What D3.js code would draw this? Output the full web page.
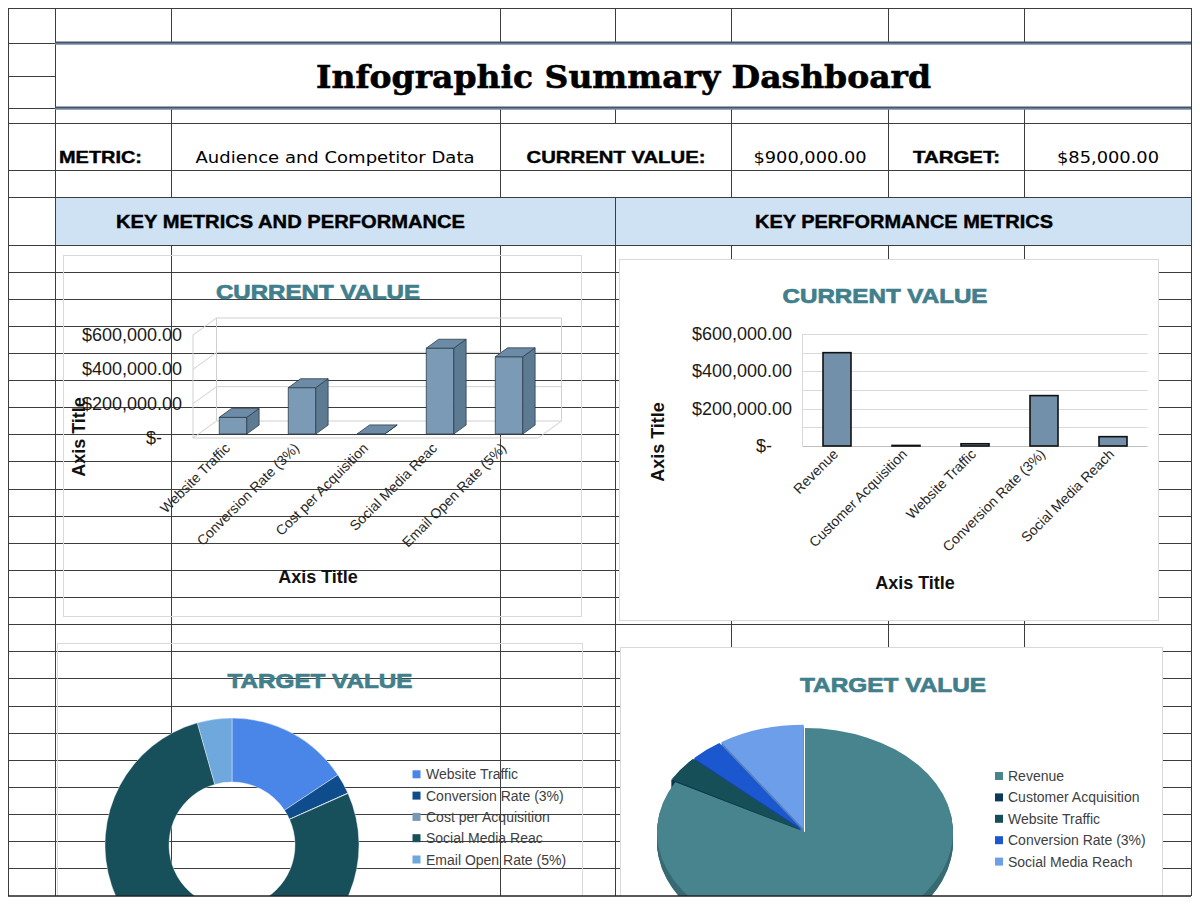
<!DOCTYPE html>
<html>
<head>
<meta charset="utf-8">
<script src="https://cdn.jsdelivr.net/npm/d3@7"></script>
<style>
  body { margin: 0; background: #fff; }
  svg { display: block; }
  text { font-family: "Liberation Sans", Arial, sans-serif; }
</style>
</head>
<body>
<svg id="dash" width="1200" height="904"></svg>
<script>
// ---- data ----
const pageTitle = "Infographic Summary Dashboard";
const metricName = "Audience and Competitor Data";
const currentValue = 900000;
const targetValue = 85000;

const leftCats = ["Website Traffic", "Conversion Rate (3%)", "Cost per Acquisition", "Social Media Reac", "Email Open Rate (5%)"];
const leftCurrent = [97000, 270000, 1000, 500000, 450000];
const leftTarget = [157000, 26000, 500, 773000, 44000];

const rightCats = ["Revenue", "Customer Acquisition", "Website Traffic", "Conversion Rate (3%)", "Social Media Reach"];
const rightCurrent = [500000, 3000, 12000, 270000, 50000];
const rightTarget = [830000, 1000, 39000, 36000, 94000];

const yTicks = [0, 200000, 400000, 600000];

const donutColors = ["#4a86e8", "#0f4c8c", "#7b98b2", "#174f5b", "#6fa8dc"];
const pieColors = ["#47848e", "#0d3a5a", "#164f57", "#1b57cf", "#6c9eea"];

const money = v => v === 0 ? "$-" : d3.format("$,.2f")(v);

const svg = d3.select("#dash");
svg.append("rect").attr("width", 1200).attr("height", 904).attr("fill", "#fff");

// ---- spreadsheet grid ----
const sheetBottom = 896;
const rowH = 27.12;

// blue section header cells
svg.append("rect").attr("x", 55).attr("y", 197).attr("width", 1136).attr("height", 48).attr("fill", "#cfe2f3");

const grid = svg.append("g").attr("stroke", "#3d3d3d").attr("stroke-width", 1).attr("shape-rendering", "crispEdges");
const hline = (y, x1, x2) => grid.append("line").attr("x1", x1).attr("x2", x2).attr("y1", y).attr("y2", y);
const vline = (x, y1, y2) => grid.append("line").attr("x1", x).attr("x2", x).attr("y1", y1).attr("y2", y2);

[8, 123, 170, 197, 245].forEach(y => hline(y, 8, 1191));
[43, 76, 108].forEach(y => hline(y, 8, 55));
d3.range(1, 24).forEach(k => hline(245 + k * rowH, 8, 1191));

[8, 55, 1191].forEach(x => vline(x, 8, sheetBottom));
[171, 500, 731, 888, 1024].forEach(x => { vline(x, 8, 43); vline(x, 108, 197); vline(x, 245, sheetBottom); });
vline(615, 8, 43); vline(615, 108, 123); vline(615, 197, sheetBottom);

// heavy rules around the title
[43, 108].forEach(y => {
  svg.append("line").attr("x1", 55).attr("x2", 1191).attr("y1", y).attr("y2", y)
    .attr("stroke", "#44546a").attr("stroke-width", 3);
  svg.append("line").attr("x1", 55).attr("x2", 1191).attr("y1", y + 1).attr("y2", y + 1)
    .attr("stroke", "#8fa7c2").attr("stroke-width", 1);
});

// ---- header texts ----
svg.append("text").text(pageTitle)
  .attr("x", 623.5).attr("y", 88).attr("text-anchor", "middle")
  .style("font-family", "'DejaVu Serif', serif").style("font-weight", "bold").style("font-size", "32px")
  .attr("textLength", 615).attr("lengthAdjust", "spacingAndGlyphs")
  .attr("fill", "#000").attr("stroke", "#000").attr("stroke-width", 0.6);

const cellText = (t, x, opts) => svg.append("text").text(t)
  .attr("x", x).attr("y", opts.y || 163).attr("text-anchor", opts.anchor || "middle")
  .style("font-family", opts.font || null).style("font-weight", opts.bold ? "bold" : "normal")
  .style("font-size", opts.size + "px").attr("fill", "#000")
  .attr("stroke", opts.bold ? "#000" : "none").attr("stroke-width", 0.4)
  .attr("textLength", opts.len || null).attr("lengthAdjust", "spacingAndGlyphs");

cellText("METRIC:", 59, { anchor: "start", bold: true, size: 16.5, len: 83 });
cellText(metricName, 335, { font: "'DejaVu Sans', sans-serif", size: 16.5, len: 279 });
cellText("CURRENT VALUE:", 616, { bold: true, size: 16.5, len: 179 });
cellText(money(currentValue), 810, { font: "'DejaVu Sans', sans-serif", size: 16.5, len: 113 });
cellText("TARGET:", 956.5, { bold: true, size: 16.5, len: 87 });
cellText(money(targetValue), 1108, { font: "'DejaVu Sans', sans-serif", size: 16.5, len: 102 });

cellText("KEY METRICS AND PERFORMANCE", 290.5, { y: 228, bold: true, size: 18, len: 349 });
cellText("KEY PERFORMANCE METRICS", 904, { y: 228, bold: true, size: 18, len: 298 });

// ---- charts (clipped to the sheet) ----
svg.append("defs").append("clipPath").attr("id", "sheetClip")
  .append("rect").attr("x", 0).attr("y", 0).attr("width", 1200).attr("height", sheetBottom);
const charts = svg.append("g").attr("clip-path", "url(#sheetClip)");

const titleColor = "#417f8c";
const chartTitle = (g, t, x, y, len) => g.append("text").text(t)
  .attr("x", x).attr("y", y).attr("text-anchor", "middle")
  .style("font-weight", "bold").style("font-size", "20px")
  .attr("fill", titleColor).attr("stroke", titleColor).attr("stroke-width", 0.7)
  .attr("textLength", len).attr("lengthAdjust", "spacingAndGlyphs");
const axisTitle = (g, x, y, rot) => g.append("text").text("Axis Title")
  .attr("transform", `translate(${x},${y})` + (rot ? " rotate(-90)" : ""))
  .attr("text-anchor", "middle").attr("dy", rot ? "0.35em" : 0)
  .style("font-weight", "bold").style("font-size", "18px").attr("fill", "#111");

// ===== top-left: 3D column chart (transparent) =====
const tl = charts.append("g");
tl.append("rect").attr("x", 63.5).attr("y", 255.5).attr("width", 518).attr("height", 361)
  .attr("fill", "none").attr("stroke", "#d9d9d9");
chartTitle(tl, "CURRENT VALUE", 318, 299, 204);

const xL = d3.scaleBand().domain(leftCats).range([193, 538]);
const yL = d3.scaleLinear().domain([0, 600000]).range([438, 335]);
const dX = 23.5, dY = -17;

const wall = tl.append("g").attr("stroke", "#d0d0d0").attr("stroke-width", 1).attr("fill", "none");
yTicks.forEach(t => {
  wall.append("line").attr("x1", 193 + dX).attr("x2", 538 + dX).attr("y1", yL(t) + dY).attr("y2", yL(t) + dY);
  wall.append("line").attr("x1", 193).attr("x2", 193 + dX).attr("y1", yL(t)).attr("y2", yL(t) + dY);
});
wall.append("line").attr("x1", 193).attr("x2", 193).attr("y1", yL(0)).attr("y2", yL(600000));
wall.append("line").attr("x1", 193 + dX).attr("x2", 193 + dX).attr("y1", yL(0) + dY).attr("y2", yL(600000) + dY);
wall.append("line").attr("x1", 538 + dX).attr("x2", 538 + dX).attr("y1", yL(0) + dY).attr("y2", yL(600000) + dY);
wall.append("path").attr("d", `M193,${yL(0)}L538,${yL(0)}L${538 + dX},${yL(0) + dY}`);

const f1 = 0.235, f2 = 0.76, barW = 27.5;
const ddx = (f2 - f1) * dX, ddy = (f2 - f1) * dY;
const bars3d = tl.append("g").attr("stroke", "#2f3d4a").attr("stroke-width", 0.8).attr("stroke-linejoin", "round");
leftCats.forEach((c, i) => {
  const x = xL(c) + xL.bandwidth() / 2 - barW / 2 + f1 * dX;
  const yb = yL(0) + f1 * dY;
  const yt = yL(leftCurrent[i]) + f1 * dY;
  bars3d.append("rect").attr("x", x).attr("y", yt).attr("width", barW).attr("height", yb - yt).attr("fill", "#7b9ab5");
  bars3d.append("path").attr("fill", "#5d7a93")
    .attr("d", `M${x + barW},${yb}L${x + barW},${yt}L${x + barW + ddx},${yt + ddy}L${x + barW + ddx},${yb + ddy}Z`);
  bars3d.append("path").attr("fill", "#6b8ba6")
    .attr("d", `M${x},${yt}L${x + barW},${yt}L${x + barW + ddx},${yt + ddy}L${x + ddx},${yt + ddy}Z`);
});

tl.append("g").selectAll("text").data(yTicks).join("text")
  .text(money).attr("x", d => d === 0 ? 162 : 182).attr("y", d => yL(d) + 6)
  .attr("text-anchor", "end").style("font-size", "18px").attr("fill", "#1a1a1a");
tl.append("g").selectAll("text").data(leftCats).join("text")
  .text(d => d)
  .attr("transform", d => `translate(${xL(d) + xL.bandwidth() / 2 + f1 * dX - 2},449) rotate(-45)`)
  .attr("text-anchor", "end").style("font-size", "14px").attr("fill", "#262626");
axisTitle(tl, 318, 583, false);
axisTitle(tl, 79, 437, true);

// ===== top-right: flat column chart =====
const tr = charts.append("g");
tr.append("rect").attr("x", 619.5).attr("y", 259.5).attr("width", 539).attr("height", 361)
  .attr("fill", "#fff").attr("stroke", "#d9d9d9");
chartTitle(tr, "CURRENT VALUE", 885, 303, 205);

const xR = d3.scaleBand().domain(rightCats).range([802.5, 1147.5]);
const yR = d3.scaleLinear().domain([0, 600000]).range([446, 334]);
tr.append("g").selectAll("line").data(yR.ticks(6)).join("line")
  .attr("x1", 802.5).attr("x2", 1147.5).attr("y1", d => Math.round(yR(d)) + 0.5).attr("y2", d => Math.round(yR(d)) + 0.5)
  .attr("stroke", d => d === 0 ? "#bfbfbf" : "#d9d9d9").attr("stroke-width", 1.2);
tr.append("line").attr("x1", 802.5).attr("x2", 802.5).attr("y1", 334).attr("y2", 446.5).attr("stroke", "#d9d9d9");

const rBarW = 28;
tr.append("g").selectAll("rect").data(rightCats).join("rect")
  .attr("x", d => xR(d) + xR.bandwidth() / 2 - rBarW / 2)
  .attr("y", (d, i) => yR(rightCurrent[i]))
  .attr("width", rBarW)
  .attr("height", (d, i) => yR(0) - yR(rightCurrent[i]))
  .attr("fill", "#7290a9").attr("stroke", "#111").attr("stroke-width", 1.6);

tr.append("g").selectAll("text").data(yTicks).join("text")
  .text(money).attr("x", d => d === 0 ? 772 : 792).attr("y", d => yR(d) + 6)
  .attr("text-anchor", "end").style("font-size", "18px").attr("fill", "#1a1a1a");
tr.append("g").selectAll("text").data(rightCats).join("text")
  .text(d => d)
  .attr("transform", d => `translate(${xR(d) + xR.bandwidth() / 2 + 2},455) rotate(-45)`)
  .attr("text-anchor", "end").style("font-size", "14px").attr("fill", "#262626");
axisTitle(tr, 915, 589, false);
axisTitle(tr, 658, 442, true);

// ===== bottom-left: doughnut (transparent) =====
const bl = charts.append("g");
bl.append("rect").attr("x", 57.5).attr("y", 643.5).attr("width", 525).attr("height", 300)
  .attr("fill", "none").attr("stroke", "#d9d9d9");
chartTitle(bl, "TARGET VALUE", 320, 688, 185);

const donutArcs = d3.pie().sort(null).value(d => d)(leftTarget);
const donutArc = d3.arc().innerRadius(63).outerRadius(127);
bl.append("g").attr("transform", "translate(232,845)")
  .selectAll("path").data(donutArcs).join("path")
  .attr("d", donutArc).attr("fill", (d, i) => donutColors[i])
  .attr("stroke", "#fff").attr("stroke-width", 0.4);

const blLeg = bl.append("g").selectAll("g").data(leftCats).join("g")
  .attr("transform", (d, i) => `translate(412.5,${774.3 + i * 21.3})`);
blLeg.append("rect").attr("x", 0).attr("y", -4).attr("width", 8).attr("height", 8).attr("fill", (d, i) => donutColors[i]);
blLeg.append("text").text(d => d).attr("x", 13.5).attr("y", 5)
  .style("font-size", "14px").attr("fill", "#404040");

// ===== bottom-right: 3D exploded pie =====
const br = charts.append("g");
br.append("rect").attr("x", 620.5).attr("y", 647.5).attr("width", 542).attr("height", 300)
  .attr("fill", "#fff").attr("stroke", "#d9d9d9");
chartTitle(br, "TARGET VALUE", 893, 692, 186);

const pieArcs = d3.pie().sort(null).value(d => d)(rightTarget);
const pr = 148, tilt = 104 / 148, depth = 10, explode = 5;
const pieArc = d3.arc().innerRadius(0).outerRadius(pr);
const shift = (d, i) => {
  if (i === 0) return null;
  const a = (d.startAngle + d.endAngle) / 2;
  return `translate(${Math.sin(a) * explode},${-Math.cos(a) * explode})`;
};
const pieG = br.append("g").attr("transform", "translate(805,832)");
d3.range(depth, -1, -1).forEach(off => {
  pieG.append("g").attr("transform", `translate(0,${off}) scale(1,${tilt})`)
    .selectAll("path").data(pieArcs).join("path")
    .attr("transform", shift)
    .attr("d", pieArc)
    .attr("fill", (d, i) => off === 0 ? pieColors[i] : d3.color(pieColors[i]).darker(0.6));
});

const brLeg = br.append("g").selectAll("g").data(rightCats).join("g")
  .attr("transform", (d, i) => `translate(995,${776 + i * 21.4})`);
brLeg.append("rect").attr("x", 0).attr("y", -4).attr("width", 8).attr("height", 8).attr("fill", (d, i) => pieColors[i]);
brLeg.append("text").text(d => d).attr("x", 13).attr("y", 5)
  .style("font-size", "14px").attr("fill", "#404040");

// sheet bottom border on top
svg.append("line").attr("x1", 8).attr("x2", 1191).attr("y1", sheetBottom).attr("y2", sheetBottom)
  .attr("stroke", "#222").attr("stroke-width", 1.5);
</script>
</body>
</html>
